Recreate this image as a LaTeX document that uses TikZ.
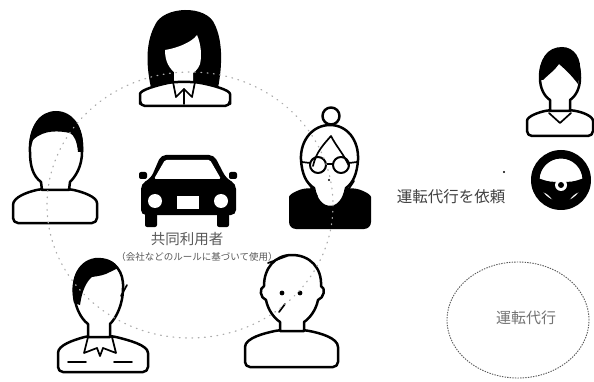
\documentclass[tikz,border=0pt]{standalone}
\usepackage{fontspec}
\newfontfamily\jpfont{Noto Sans CJK JP}
\usetikzlibrary{shapes.geometric}
\begin{document}
\begin{tikzpicture}[x=1pt,y=-1pt,
  ink/.style={draw=black,line width=2.5pt,line join=round,line cap=round,fill=white},
  stroke/.style={draw=black,line width=1.7pt,line join=round,line cap=round},
  ring/.style={draw=gray!65,line width=1.2pt,dash pattern=on 0.8pt off 5.5pt,line cap=round},
  oval/.style={draw=gray!70!black,line width=0.9pt,dash pattern=on 1.4pt off 1.2pt,ellipse},
  label/.style={text=black!65,inner sep=0pt}
]
\useasboundingbox[fill=white] (0,0) rectangle (594,382);

% ---------- shared car ----------
\fill[rounded corners=2pt] (139,172) rectangle (147,179);
\fill[rounded corners=2pt] (229,172) rectangle (237,179);
\fill[rounded corners=5pt] (161,155) -- (214,155) -- (226,178) -- (236,184) -- (236,215)
  -- (141,215) -- (141,184) -- (151,178) -- cycle;
\fill[white,rounded corners=1.5pt] (165,160) -- (210,160) -- (221,179) -- (154,179) -- cycle;
\fill[white] (155,201) circle (7);
\fill[white] (221,201) circle (7);
\fill[white] (177,196) rectangle (199,209);
\fill[rounded corners=2pt] (145,213) rectangle (157,227);
\fill[rounded corners=2pt] (217,213) rectangle (229,227);

\node[label,font=\jpfont\fontsize{14.5}{14.5}\selectfont] (share) at (187,239) {共同利用者};
\node[label,font=\jpfont\fontsize{9.5}{9.5}\selectfont] (rule) at (197,257) {（会社などのルールに基づいて使用）};

% ---------- top: woman ----------
\fill (151,88) .. controls (145,60) and (147,40) .. (155,25) .. controls (163,6) and (207,4) .. (215,25)
  .. controls (222,40) and (223,62) .. (218,88) -- cycle;
\fill[white] (174,86) -- (174,72) .. controls (167,66) and (165,58) .. (165,50)
  .. controls (178,48) and (192,42) .. (197,35) .. controls (201,44) and (202,56) .. (200,64)
  .. controls (198,70) and (193,73) .. (193,73) -- (193,86) -- cycle;
\path[ink,rounded corners=5pt] (140,106) -- (140,99) .. controls (140,90) and (158,85) .. (173,82)
  -- (195,82) .. controls (212,85) and (230,90) .. (230,99) -- (230,106) -- cycle;
\draw[stroke] (173,82) -- (176,97) -- (184,89) -- (192,97) -- (195,82);
\draw[stroke] (184,89) -- (184,104);

% ---------- left: man ----------
\path[ink,rounded corners=5pt] (13,223) -- (13,210) .. controls (13,197) and (28,192) .. (41,189)
  -- (69,189) .. controls (83,192) and (97,197) .. (97,208) -- (97,223) -- cycle;
\path[ink] (42,190) -- (41,182) .. controls (33,176) and (30,166) .. (30,152)
  .. controls (29,128) and (40,114) .. (56,114) .. controls (72,114) and (83,128) .. (82,152)
  .. controls (82,166) and (76,176) .. (70,182) -- (69,190) -- cycle;
\fill (30,150) .. controls (28,126) and (40,111) .. (56,111) .. controls (72,111) and (85,126) .. (83,152)
  -- (78,152) .. controls (77,141) and (74,135) .. (70,133) .. controls (60,131) and (44,129) .. (33,140) -- cycle;

% ---------- right of ring: grandmother ----------
\fill[rounded corners=7pt] (289,229) -- (289,204) .. controls (289,194) and (300,189) .. (312,188)
  -- (348,188) .. controls (360,189) and (371,194) .. (371,204) -- (371,229) -- cycle;
\path[ink] (314,188) .. controls (306,183) and (302,174) .. (301,160)
  .. controls (300,140) and (313,125) .. (330,125) .. controls (347,125) and (359,140) .. (358,160)
  .. controls (357,174) and (353,183) .. (346,188) .. controls (344,200) and (338,207) .. (330,207)
  .. controls (322,207) and (316,200) .. (314,188) -- cycle;
\path[ink] (331,116) circle (8.5);
\draw[stroke] (313,166) .. controls (316,152) and (324,144) .. (331,136) .. controls (336,146) and (343,153) .. (349,166);
\draw[stroke] (307,181) -- (317,196);
\draw[stroke] (354,181) -- (344,196);
\draw[stroke,line width=2pt] (318,165) circle (8) (341,165) circle (8);
\draw[stroke] (326,164) -- (333,164) (310,163) -- (302,162) (349,163) -- (357,162);
\fill (329,180) circle (1.1);

% ---------- bottom left: man in collared shirt ----------
\path[ink,rounded corners=5pt] (58,372) -- (58,358) .. controls (58,345) and (74,340) .. (88,336)
  -- (112,336) .. controls (128,340) and (148,345) .. (148,358) -- (148,372) -- cycle;
\path[ink] (88,337) -- (88,324) .. controls (80,318) and (74,305) .. (74,290)
  .. controls (74,270) and (85,260) .. (100,260) .. controls (115,260) and (124,272) .. (123,288)
  .. controls (123,305) and (116,318) .. (110,324) -- (110,337) -- cycle;
\fill (74,303) .. controls (69,282) and (76,261) .. (95,258) .. controls (106,257) and (115,261) .. (118,268)
  -- (110,272) .. controls (105,275) and (99,276) .. (92,277) .. controls (86,282) and (82,291) .. (80,305) -- cycle;
\draw[stroke] (103,261) -- (114,265);
\draw[stroke] (121,296) -- (127,285);
\draw[stroke] (88,337) -- (84,353) -- (97,348) -- (100,356) -- (103,348) -- (116,353) -- (112,337);
\draw[stroke] (68,362) -- (86,362) (114,362) -- (132,362);

% ---------- bottom right: bald man ----------
\path[ink,rounded corners=5pt] (245,367) -- (245,352) .. controls (245,338) and (265,333) .. (280,330)
  -- (304,330) .. controls (320,333) and (338,338) .. (338,352) -- (338,367) -- cycle;
\path[ink] (280,331) -- (280,322) .. controls (274,318) and (268,310) .. (266,300)
  .. controls (260,298) and (259,288) .. (264,286) .. controls (264,268) and (275,255) .. (292,255)
  .. controls (310,255) and (322,268) .. (321,286) .. controls (326,288) and (324,298) .. (318,300)
  .. controls (316,310) and (310,318) .. (304,322) -- (304,331) -- cycle;
\draw[stroke] (268,263) -- (287,256);
\fill (282,293) circle (2.4) (300,293) circle (2.4);
\draw[stroke] (279,312) -- (285,304);

% ---------- right: driver ----------
\path[ink,rounded corners=5pt] (527,136) -- (527,126) .. controls (527,116) and (540,112) .. (550,110)
  -- (570,110) .. controls (582,112) and (593,116) .. (593,126) -- (593,136) -- cycle;
\path[ink] (550,111) -- (550,100) .. controls (544,96) and (540,88) .. (540,78)
  .. controls (540,60) and (548,50) .. (560,50) .. controls (572,50) and (580,60) .. (580,78)
  .. controls (580,88) and (576,96) .. (570,100) -- (570,111) -- cycle;
\fill (541,80) .. controls (538,58) and (548,47) .. (562,47) .. controls (574,47) and (582,58) .. (580,74)
  -- (578,84) .. controls (572,76) and (566,70) .. (559,64) .. controls (555,70) and (548,75) .. (543,80) -- cycle;
\draw[stroke] (549,113) -- (560,123) -- (571,113);

% ---------- steering wheel ----------
\fill[even odd rule] (561,180) circle (30) (561,180) circle (21.5);
\fill (538,178) .. controls (548,182) and (552,182) .. (561,182) .. controls (570,182) and (574,182) .. (584,178)
  -- (586,190) .. controls (576,192) and (570,196) .. (567,206) -- (555,206)
  .. controls (552,196) and (546,192) .. (536,190) -- cycle;
\fill[white] (561,185) circle (6);
\fill (561,185) circle (3);

% ---------- request label and agency ----------
\node[label,text=black!75,font=\jpfont\fontsize{15.5}{15.5}\selectfont] (request) at (451,197) {運転代行を依頼};
\fill (504,172) circle (1.2);
\node[oval,minimum width=142,minimum height=116] (agency) at (518,320) {};
\node[label,text=black!55,font=\jpfont\fontsize{15}{15}\selectfont] (agencyname) at (526,318) {運転代行};

% ---------- ring of sharing members ----------
\draw[ring] (190,205) ellipse [x radius=143, y radius=133];
\end{tikzpicture}
\end{document}
